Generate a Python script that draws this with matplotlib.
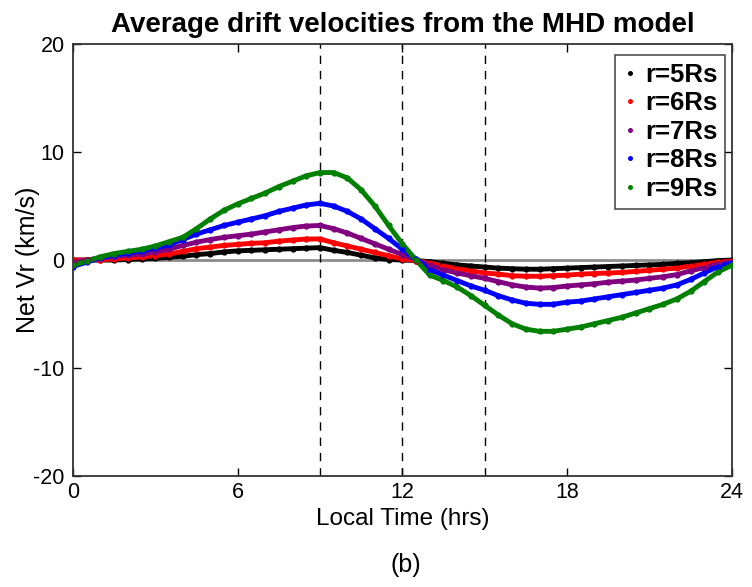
import matplotlib
matplotlib.use('Agg')
import matplotlib.pyplot as plt
import numpy as np

plt.rcParams['font.family'] = ['Liberation Sans', 'DejaVu Sans']
plt.rcParams['axes.unicode_minus'] = False

# local time grid (hrs), every half hour
local_time = np.arange(0, 24.5, 0.5)

# net radial drift velocity (km/s)
vr_r5 = [0.0, 0.0, 0.0, 0.0, 0.05, 0.1, 0.15, 0.25, 0.35, 0.5, 0.6, 0.75, 0.85, 0.9, 0.95, 1.0, 1.05, 1.1, 1.15,
         0.9, 0.7, 0.45, 0.2, 0.05, 0.0, -0.05, -0.15, -0.3, -0.45, -0.55, -0.65, -0.75, -0.8, -0.85, -0.85, -0.8,
         -0.75, -0.7, -0.65, -0.6, -0.55, -0.5, -0.45, -0.4, -0.3, -0.25, -0.15, -0.05, 0.0]
vr_r6 = [0.0, 0.0, 0.05, 0.1, 0.2, 0.3, 0.4, 0.55, 0.8, 1.05, 1.2, 1.35, 1.45, 1.55, 1.6, 1.75, 1.85, 1.95, 1.95,
         1.6, 1.3, 1.0, 0.7, 0.4, 0.1, -0.05, -0.3, -0.55, -0.8, -1.0, -1.2, -1.3, -1.45, -1.5, -1.5, -1.45,
         -1.4, -1.3, -1.25, -1.2, -1.15, -1.05, -0.95, -0.85, -0.75, -0.55, -0.4, -0.2, -0.1]
vr_r7 = [-0.2, 0.0, 0.2, 0.3, 0.45, 0.55, 0.75, 1.0, 1.35, 1.65, 1.9, 2.1, 2.25, 2.4, 2.6, 2.8, 3.0, 3.15, 3.2,
         2.9, 2.5, 2.0, 1.5, 1.0, 0.5, 0.05, -0.5, -0.9, -1.2, -1.45, -1.7, -2.0, -2.3, -2.5, -2.6, -2.55,
         -2.4, -2.3, -2.2, -2.05, -1.95, -1.85, -1.7, -1.55, -1.35, -1.0, -0.7, -0.35, -0.15]
vr_r8 = [-0.6, -0.2, 0.2, 0.45, 0.65, 0.85, 1.1, 1.4, 1.9, 2.4, 2.8, 3.2, 3.5, 3.8, 4.1, 4.5, 4.8, 5.1, 5.25,
         5.0, 4.5, 3.8, 2.9, 2.0, 1.0, 0.1, -0.9, -1.4, -1.9, -2.4, -2.8, -3.3, -3.7, -4.0, -4.1, -4.1,
         -3.9, -3.8, -3.6, -3.4, -3.2, -3.0, -2.8, -2.6, -2.3, -1.8, -1.2, -0.6, -0.3]
vr_r9 = [-0.5, -0.1, 0.3, 0.6, 0.8, 1.0, 1.3, 1.7, 2.1, 2.9, 3.8, 4.6, 5.2, 5.7, 6.2, 6.8, 7.3, 7.8, 8.1,
         8.1, 7.6, 6.5, 5.0, 3.2, 1.5, 0.0, -1.4, -1.9, -2.5, -3.3, -4.2, -5.1, -5.9, -6.4, -6.6, -6.6,
         -6.4, -6.2, -5.9, -5.6, -5.3, -4.9, -4.5, -4.1, -3.6, -2.9, -2.0, -1.1, -0.5]

series = [vr_r5, vr_r6, vr_r7, vr_r8, vr_r9]
labels = ['r=5Rs', 'r=6Rs', 'r=7Rs', 'r=8Rs', 'r=9Rs']
colors = ['black', 'red', 'purple', 'blue', 'green']

fig = plt.figure(figsize=(7.52, 5.87), dpi=100)
ax = fig.add_axes([0.097, 0.189, 0.876, 0.736])

ax.axhline(0, color='#8c8c8c', lw=2, zorder=1)
for xv in [9, 12, 15]:
    ax.axvline(xv, color='black', lw=1, ls=(0, (6, 5)), zorder=1)

for vals, lab, col in zip(series, labels, colors):
    ax.plot(local_time, vals, '-', color=col, lw=3.5, zorder=2)
    ax.plot(local_time, vals, 'o', color=col, ms=4.5, mew=0, label=lab, zorder=3)

ax.set_xlim(0, 24)
ax.set_ylim(-20, 20)
ax.set_xticks([0, 6, 12, 18, 24])
ax.set_yticks([-20, -10, 0, 10, 20])
ax.tick_params(direction='in', top=True, right=True, length=6, width=1, labelsize=15.5)
ax.tick_params(axis='x', pad=4)
ax.tick_params(axis='y', pad=6)
for sp in ax.spines.values():
    sp.set_linewidth(1.3)
    sp.set_color('#333333')

ax.set_xlabel('Local Time (hrs)', fontsize=17.5, labelpad=4)
ax.set_ylabel('Net Vr (km/s)', fontsize=18)
ax.yaxis.set_label_coords(-0.05, 0.5)
ax.set_title('Average drift velocities from the MHD model', fontsize=20, fontweight='bold', pad=9)

leg = ax.legend(loc='upper right', prop={'weight': 'bold', 'size': 18.5}, frameon=True, fancybox=False,
                edgecolor='#333333', handlelength=0.5, handletextpad=0.35, borderpad=0.3, labelspacing=0.18,
                markerscale=0.8, bbox_to_anchor=(0.99, 0.975), borderaxespad=0)
leg.get_frame().set_linewidth(1.3)

fig.text(0.54, 0.038, '(b)', ha='center', va='center', fontsize=18)

fig.savefig('out.png', dpi=100)
